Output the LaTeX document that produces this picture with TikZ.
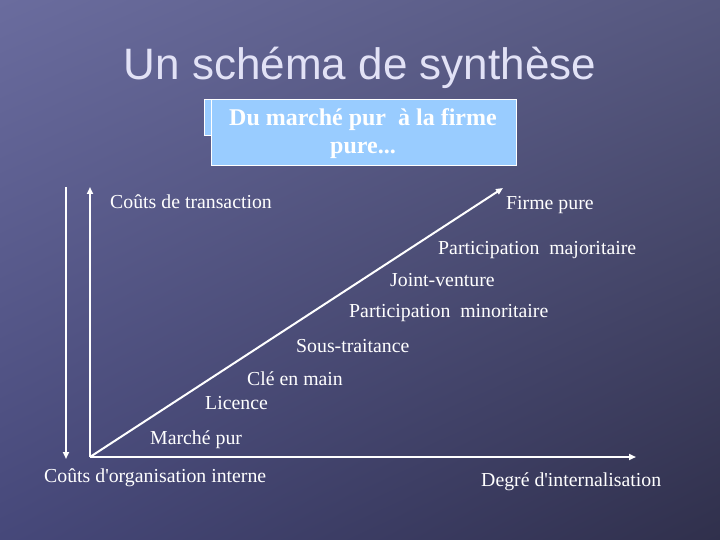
\documentclass[tikz,border=0pt]{standalone}
\usepackage{fontspec}
\setmainfont{Liberation Serif}[Ligatures=TeXOff]
\newfontfamily\titlefont{Liberation Sans}
\usetikzlibrary{arrows.meta,shadings}
\definecolor{bgTL}{HTML}{6A6C9E}
\definecolor{bgTR}{HTML}{56587F}
\definecolor{bgBL}{HTML}{46487A}
\definecolor{bgBR}{HTML}{30304C}
\definecolor{titlecol}{HTML}{E2E2F6}
\definecolor{boxfill}{HTML}{99CCFF}
\tikzset{
  axisline/.style={white, line width=2pt, -{Triangle[length=7pt,width=6pt]}},
  lbl/.style={text=white, font=\fontsize{19.8}{22}\selectfont, anchor=west, inner sep=0pt},
  titlebox/.style={draw=white, line width=1pt, fill=boxfill, inner sep=0pt}
}
\begin{document}
\begin{tikzpicture}[x=1pt,y=-1pt]
\useasboundingbox (0,0) rectangle (720,540);
\shade[upper left=bgTL, upper right=bgTR, lower left=bgBL, lower right=bgBR] (0,0) rectangle (720,540);
% title
\node[text=titlecol, font=\titlefont\fontsize{44}{48}\selectfont, inner sep=0pt] (title) at (360,68) {Un schéma de synthèse};
% boxes
\path[titlebox] (204,100) rectangle (300,136);
\node[titlebox, minimum width=305pt, minimum height=66pt] (box) at (363.5,132.5) {};
\node[text=white, font=\bfseries\fontsize{24}{28}\selectfont, align=center, inner sep=0pt] (boxtext) at (363,134) {Du marché pur\ \ à la firme\\pure...};
% axes
\coordinate (O) at (90,457);
\coordinate (ytop) at (90,187);
\coordinate (xend) at (636,457);
\coordinate (dend) at (503,188);
\coordinate (ltop) at (66,187);
\coordinate (lbot) at (66,459);
\draw[axisline] (O) -- (ytop);
\draw[axisline] (O) -- (xend);
\draw[axisline] (O) -- (dend);
\draw[axisline] (ltop) -- (lbot);
% labels
\node[lbl] (ct) at (110,202) {Coûts de transaction};
\node[lbl] (fp) at (506,205) {Firme pure};
\node[lbl] (pmaj) at (438,250) {Participation\ \ majoritaire};
\node[lbl] (jv) at (390,280) {Joint-venture};
\node[lbl] (pmin) at (349,313) {Participation\ \ minoritaire};
\node[lbl] (st) at (296,346) {Sous-traitance};
\node[lbl] (cm) at (247,379) {Clé en main};
\node[lbl] (lic) at (205,403) {Licence};
\node[lbl] (mp) at (150,440) {Marché pur};
\node[lbl] (coi) at (44,478) {Coûts d'organisation interne};
\node[lbl] (di) at (481,482) {Degré d'internalisation};
\end{tikzpicture}
\end{document}
